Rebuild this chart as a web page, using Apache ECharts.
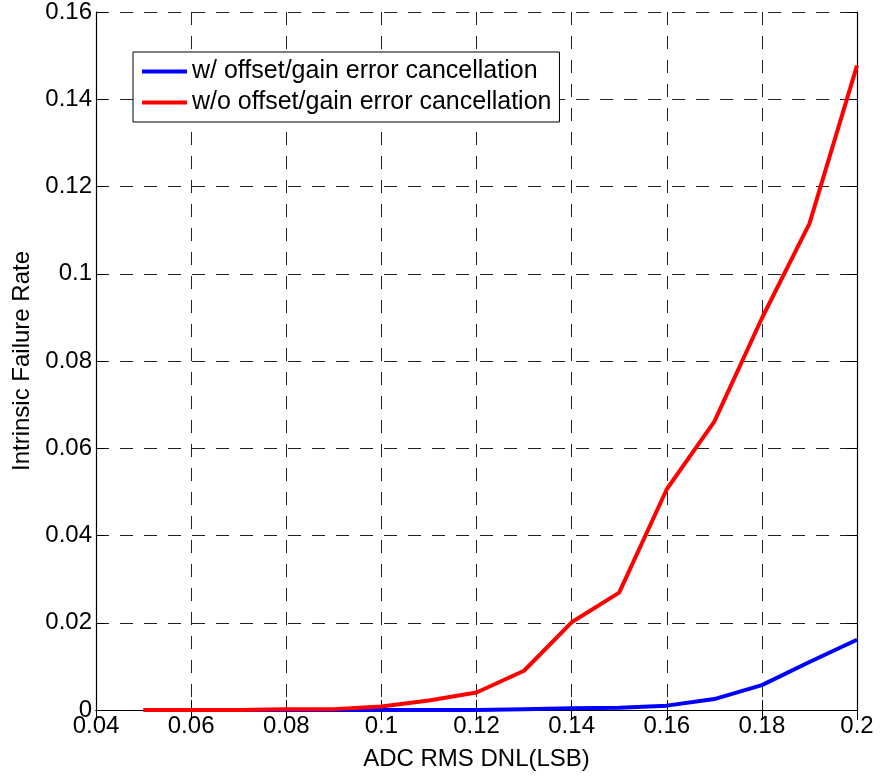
<!DOCTYPE html>
<html>
<head>
<meta charset="utf-8">
<title>Intrinsic Failure Rate</title>
<script src="https://cdn.jsdelivr.net/npm/echarts@6/dist/echarts.min.js"></script>
<style>
  html, body { margin: 0; padding: 0; background: #fff; }
  #main { width: 880px; height: 776px; }
</style>
</head>
<body>
<div id="main"></div>
<script type="text/javascript">
// values
var dnl = [0.05, 0.06, 0.07, 0.08, 0.09, 0.10, 0.11, 0.12, 0.13, 0.14, 0.15, 0.16, 0.17, 0.18, 0.19, 0.20];
var withCancel = [0, 0, 0, 0, 0, 0, 0, 0, 0.0002, 0.0004, 0.0005, 0.0010, 0.0025, 0.0057, 0.0110, 0.0161];
var withoutCancel = [0, 0, 0, 0.0002, 0.0002, 0.0008, 0.0022, 0.0040, 0.0090, 0.0201, 0.0269, 0.0506, 0.0661, 0.0898, 0.1115, 0.1477];
var seriesNames = ['w/ offset/gain error cancellation', 'w/o offset/gain error cancellation'];

function pairs(xs, ys) {
  var out = [];
  for (var i = 0; i < xs.length; i++) out.push([xs[i], ys[i]]);
  return out;
}
function fmt(v) { return String(+v.toFixed(2)); }

var font = 'Liberation Sans, Arial, sans-serif';
var gridLine = { show: true, lineStyle: { color: '#222', width: 1, type: [13, 11] } };
var boxLine = { show: true, lineStyle: { color: '#000', width: 1.2 } };
var tick = { show: true, inside: true, length: 10, lineStyle: { color: '#000' } };

var myChart = echarts.init(document.getElementById('main'));
var option = {
  animation: false,
  backgroundColor: '#fff',
  textStyle: { fontFamily: font },
  grid: { left: 96, right: 23, top: 12, bottom: 65, containLabel: false },
  legend: {
    orient: 'vertical',
    left: 133,
    top: 52,
    padding: [7, 8, 7, 9],
    itemGap: 6,
    itemWidth: 45,
    itemHeight: 4,
    icon: 'rect',
    borderColor: '#000',
    borderWidth: 1,
    backgroundColor: '#fff',
    textStyle: { fontSize: 25, color: '#000', fontFamily: font },
    data: seriesNames
  },
  xAxis: [{
    type: 'value', min: 0.04, max: 0.2, interval: 0.02,
    name: 'ADC RMS DNL(LSB)', nameLocation: 'middle', nameGap: 37,
    nameTextStyle: { fontSize: 24, color: '#000', fontFamily: font },
    axisLine: boxLine, axisTick: tick, splitLine: gridLine,
    axisLabel: { fontSize: 24, color: '#000', margin: 4, formatter: fmt, fontFamily: font }
  }, {
    type: 'value', position: 'top', min: 0.04, max: 0.2, interval: 0.02,
    axisLine: boxLine, axisTick: tick, splitLine: { show: false }, axisLabel: { show: false }
  }],
  yAxis: [{
    type: 'value', min: 0, max: 0.16, interval: 0.02,
    name: 'Intrinsic Failure Rate', nameLocation: 'middle', nameGap: 62,
    nameTextStyle: { fontSize: 24, color: '#000', fontFamily: font },
    axisLine: boxLine, axisTick: tick, splitLine: gridLine,
    axisLabel: { fontSize: 24, color: '#000', margin: 4, formatter: fmt, fontFamily: font }
  }, {
    type: 'value', position: 'right', min: 0, max: 0.16, interval: 0.02,
    axisLine: boxLine, axisTick: tick, splitLine: { show: false }, axisLabel: { show: false }
  }],
  series: [{
    name: seriesNames[0], type: 'line', showSymbol: false, symbol: 'none',
    color: '#0000ff', lineStyle: { color: '#0000ff', width: 4 },
    data: pairs(dnl, withCancel)
  }, {
    name: seriesNames[1], type: 'line', showSymbol: false, symbol: 'none',
    color: '#ff0000', lineStyle: { color: '#ff0000', width: 4 },
    data: pairs(dnl, withoutCancel)
  }]
};
myChart.setOption(option);
</script>
</body>
</html>
